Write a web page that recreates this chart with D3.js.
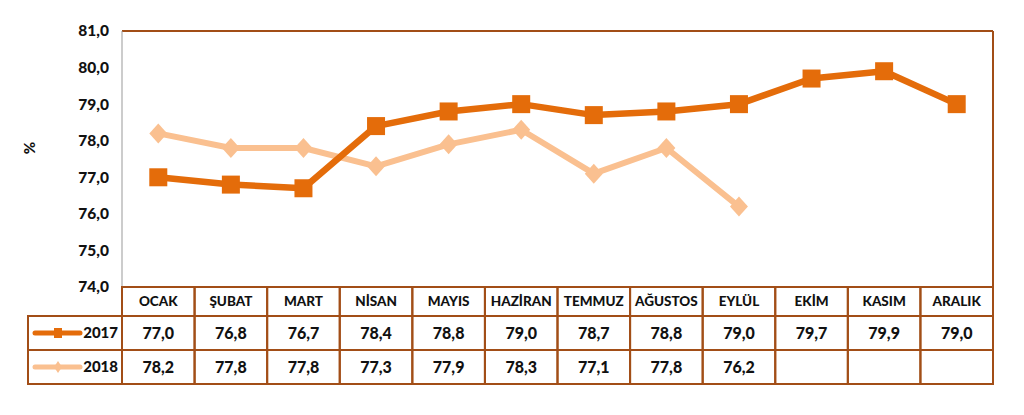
<!DOCTYPE html>
<html>
<head>
<meta charset="utf-8">
<script src="https://cdn.jsdelivr.net/npm/d3@7"></script>
<style>
  body { margin: 0; background: #fff; }
  text { font-family: Lato, "Open Sans", sans-serif; font-weight: 900; fill: #111; }
</style>
</head>
<body>
<script>
const months = ["OCAK", "ŞUBAT", "MART", "NİSAN", "MAYIS", "HAZİRAN", "TEMMUZ", "AĞUSTOS", "EYLÜL", "EKİM", "KASIM", "ARALIK"];
const values2017 = [77.0, 76.8, 76.7, 78.4, 78.8, 79.0, 78.7, 78.8, 79.0, 79.7, 79.9, 79.0];
const values2018 = [78.2, 77.8, 77.8, 77.3, 77.9, 78.3, 77.1, 77.8, 76.2];
const yTicks = [74, 75, 76, 77, 78, 79, 80, 81];

const width = 1024, height = 415;
const plotLeft = 122, plotRight = 993, plotTop = 31, plotBottom = 287;
const rowH = [29, 34, 34];
const tableLeft = 28;
const c2017 = "#E46C0A", c2018 = "#FAC090", border = "#A24E17";

const svg = d3.select("body").append("svg")
  .attr("width", width)
  .attr("height", height);

const x = d3.scaleBand().domain(months).range([plotLeft, plotRight]);
const y = d3.scaleLinear().domain([74, 81]).range([plotBottom, plotTop]);

// plot frame
svg.append("line").attr("x1", plotLeft).attr("x2", plotRight).attr("y1", plotTop).attr("y2", plotTop)
  .attr("stroke", border).attr("stroke-width", 2);
svg.append("line").attr("x1", plotRight).attr("x2", plotRight).attr("y1", plotTop).attr("y2", plotBottom)
  .attr("stroke", border).attr("stroke-width", 2);
svg.append("line").attr("x1", plotLeft).attr("x2", plotLeft).attr("y1", plotTop).attr("y2", plotBottom)
  .attr("stroke", "#999").attr("stroke-width", 1);

// y labels
svg.append("g").selectAll("text")
  .data(yTicks)
  .enter().append("text")
  .attr("x", 109)
  .attr("y", d => y(d))
  .attr("dy", "0.35em")
  .attr("text-anchor", "end")
  .attr("font-size", 15.5)
  .text(d => d.toFixed(1).replace(".", ","));

svg.append("text")
  .attr("transform", "translate(35,148) rotate(-90)")
  .attr("text-anchor", "middle")
  .attr("font-size", 15)
  .text("%");

// table
const rowY = [plotBottom, plotBottom + rowH[0], plotBottom + rowH[0] + rowH[1], plotBottom + rowH[0] + rowH[1] + rowH[2]];
const tbl = svg.append("g");

// header row
months.forEach(m => {
  tbl.append("rect")
    .attr("x", x(m)).attr("y", rowY[0])
    .attr("width", x.bandwidth()).attr("height", rowH[0])
    .attr("fill", "none").attr("stroke", border).attr("stroke-width", 2);
  tbl.append("text")
    .attr("x", x(m) + x.bandwidth() / 2)
    .attr("y", rowY[0] + rowH[0] / 2)
    .attr("dy", "0.35em")
    .attr("text-anchor", "middle")
    .attr("font-size", 13.5)
    .text(m);
});

const series = [
  { name: "2017", values: values2017, color: c2017 },
  { name: "2018", values: values2018, color: c2018 }
];

series.forEach((s, i) => {
  const ry = rowY[i + 1], rh = rowH[i + 1];
  tbl.append("rect")
    .attr("x", tableLeft).attr("y", ry)
    .attr("width", plotLeft - tableLeft).attr("height", rh)
    .attr("fill", "none").attr("stroke", border).attr("stroke-width", 2);
  months.forEach((m, j) => {
    tbl.append("rect")
      .attr("x", x(m)).attr("y", ry)
      .attr("width", x.bandwidth()).attr("height", rh)
      .attr("fill", "none").attr("stroke", border).attr("stroke-width", 2);
    if (s.values[j] !== undefined) {
      tbl.append("text")
        .attr("x", x(m) + x.bandwidth() / 2)
        .attr("y", ry + rh / 2)
        .attr("dy", "0.35em")
        .attr("text-anchor", "middle")
        .attr("font-size", 16)
        .text(s.values[j].toFixed(1).replace(".", ","));
    }
  });
  // legend key
  const ly = ry + rh / 2;
  tbl.append("line")
    .attr("x1", 35).attr("x2", 80).attr("y1", ly).attr("y2", ly)
    .attr("stroke", s.color).attr("stroke-width", 5).attr("stroke-linecap", "round");
  if (i === 0) {
    tbl.append("rect").attr("x", 54).attr("y", ly - 5).attr("width", 8).attr("height", 10).attr("fill", s.color);
  } else {
    tbl.append("path").attr("d", `M58,${ly - 6}L62,${ly}L58,${ly + 6}L54,${ly}Z`).attr("fill", s.color);
  }
  tbl.append("text")
    .attr("x", 118).attr("y", ly)
    .attr("dy", "0.35em")
    .attr("text-anchor", "end")
    .attr("font-size", 15)
    .text(s.name);
});

// lines
const line = d3.line()
  .x((d, i) => x(months[i]) + x.bandwidth() / 2)
  .y(d => y(d));

svg.append("path")
  .attr("d", line(values2018))
  .attr("fill", "none").attr("stroke", c2018).attr("stroke-width", 6).attr("stroke-linejoin", "round");

svg.append("g").selectAll("path")
  .data(values2018)
  .enter().append("path")
  .attr("d", (d, i) => {
    const cx = x(months[i]) + x.bandwidth() / 2, cy = y(d);
    return `M${cx},${cy - 10}L${cx + 9},${cy}L${cx},${cy + 10}L${cx - 9},${cy}Z`;
  })
  .attr("fill", c2018);

svg.append("path")
  .attr("d", line(values2017))
  .attr("fill", "none").attr("stroke", c2017).attr("stroke-width", 6.5).attr("stroke-linejoin", "round");

svg.append("g").selectAll("rect")
  .data(values2017)
  .enter().append("rect")
  .attr("x", (d, i) => x(months[i]) + x.bandwidth() / 2 - 9)
  .attr("y", d => y(d) - 9)
  .attr("width", 18).attr("height", 18)
  .attr("fill", c2017);
</script>
</body>
</html>
